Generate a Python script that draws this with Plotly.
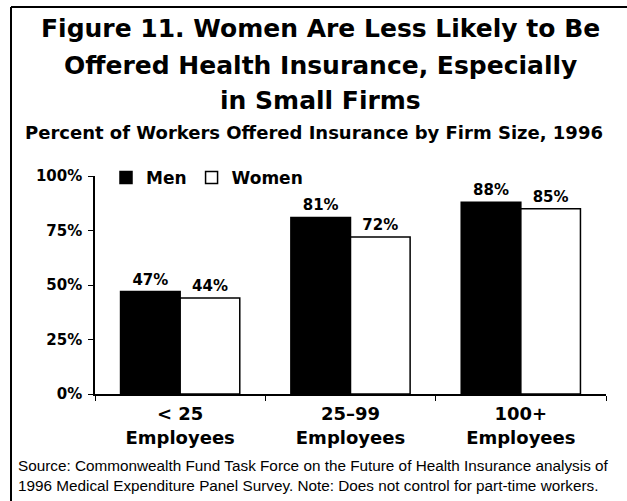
import plotly.graph_objects as go

# Data
categories = ["< 25<br>Employees", "25\u201399<br>Employees", "100+<br>Employees"]
men = [47, 81, 88]
women = [44, 72, 85]
y_ticks = [0, 25, 50, 75, 100]
y_tick_labels = ["0%", "25%", "50%", "75%", "100%"]

W, H = 627, 501
M_L, M_R, M_T, M_B = 95, 21, 176, 107
PW, PH = W - M_L - M_R, H - M_T - M_B

def px(x):
    return (x - M_L) / PW

def py(y):
    return (H - M_B - y) / PH

HEAVY = "DejaVu Sans"
fig = go.Figure()
fig.add_trace(go.Bar(
    x=categories, y=men, name="Men",
    marker=dict(color="black", line=dict(color="black", width=1.5)),
    text=[f"{v}%" for v in men], textposition="outside",
    textfont=dict(family=HEAVY, size=15, color="black", weight="bold"),
    cliponaxis=False,
))
fig.add_trace(go.Bar(
    x=categories, y=women, name="Women",
    marker=dict(color="white", line=dict(color="black", width=1.5)),
    text=[f"{v}%" for v in women], textposition="outside",
    textfont=dict(family=HEAVY, size=15, color="black", weight="bold"),
    cliponaxis=False,
))

fig.update_layout(
    width=W, height=H,
    margin=dict(l=M_L, r=M_R, t=M_T, b=M_B, autoexpand=False),
    paper_bgcolor="white", plot_bgcolor="white",
    barmode="group", bargap=0.3, bargroupgap=0,
    font=dict(family=HEAVY, color="black"),
    showlegend=True,
    legend=dict(
        orientation="h", x=px(106), y=py(178), xanchor="left", yanchor="middle",
        font=dict(family=HEAVY, size=17, weight="bold", color="black"),
        itemwidth=30, traceorder="normal", bgcolor="rgba(0,0,0,0)",
    ),
    xaxis=dict(
        showline=True, linecolor="black", linewidth=1.5,
        ticks="outside", tickson="boundaries", ticklen=5, tickcolor="black",
        ticklabelstandoff=3,
        tickfont=dict(family=HEAVY, size=18, weight="bold", color="black"),
        showgrid=False,
    ),
    yaxis=dict(
        range=[0, 100], tickvals=y_ticks, ticktext=y_tick_labels,
        showline=True, linecolor="black", linewidth=1.5,
        ticks="outside", ticklen=5, tickcolor="black", ticklabelstandoff=3,
        tickfont=dict(family=HEAVY, size=15, weight="bold", color="black"),
        showgrid=False, zeroline=False,
    ),
)

title_lines = [
    ("Figure 11. Women Are Less Likely to Be", 25, 28),
    ("Offered Health Insurance, Especially", 25, 65),
    ("in Small Firms", 25, 101),
]
for text, size, yc in title_lines:
    fig.add_annotation(
        text=text, x=px(320), y=py(yc), xref="paper", yref="paper",
        xanchor="center", yanchor="middle", showarrow=False,
        font=dict(family=HEAVY, size=size, weight="bold", color="black"),
    )
fig.add_annotation(
    text="Percent of Workers Offered Insurance by Firm Size, 1996",
    x=px(314), y=py(132), xref="paper", yref="paper",
    xanchor="center", yanchor="middle", showarrow=False,
    font=dict(family=HEAVY, size=18, weight="bold", color="black"),
)
fig.add_annotation(
    text=("Source: Commonwealth Fund Task Force on the Future of Health Insurance analysis of<br>"
          "1996 Medical Expenditure Panel Survey. Note: Does not control for part-time workers."),
    x=px(16), y=py(475), xref="paper", yref="paper",
    xanchor="left", yanchor="middle", align="left", showarrow=False,
    font=dict(family="Liberation Sans", size=15.3, color="black"),
)

# frame lines along the top and left edges
fig.add_shape(type="line", xref="paper", yref="paper",
              x0=px(11), x1=px(W + 5), y0=py(7), y1=py(7),
              line=dict(color="black", width=2))
fig.add_shape(type="line", xref="paper", yref="paper",
              x0=px(11), x1=px(11), y0=py(7), y1=py(H + 5),
              line=dict(color="black", width=2))

fig.write_html("out.html")
